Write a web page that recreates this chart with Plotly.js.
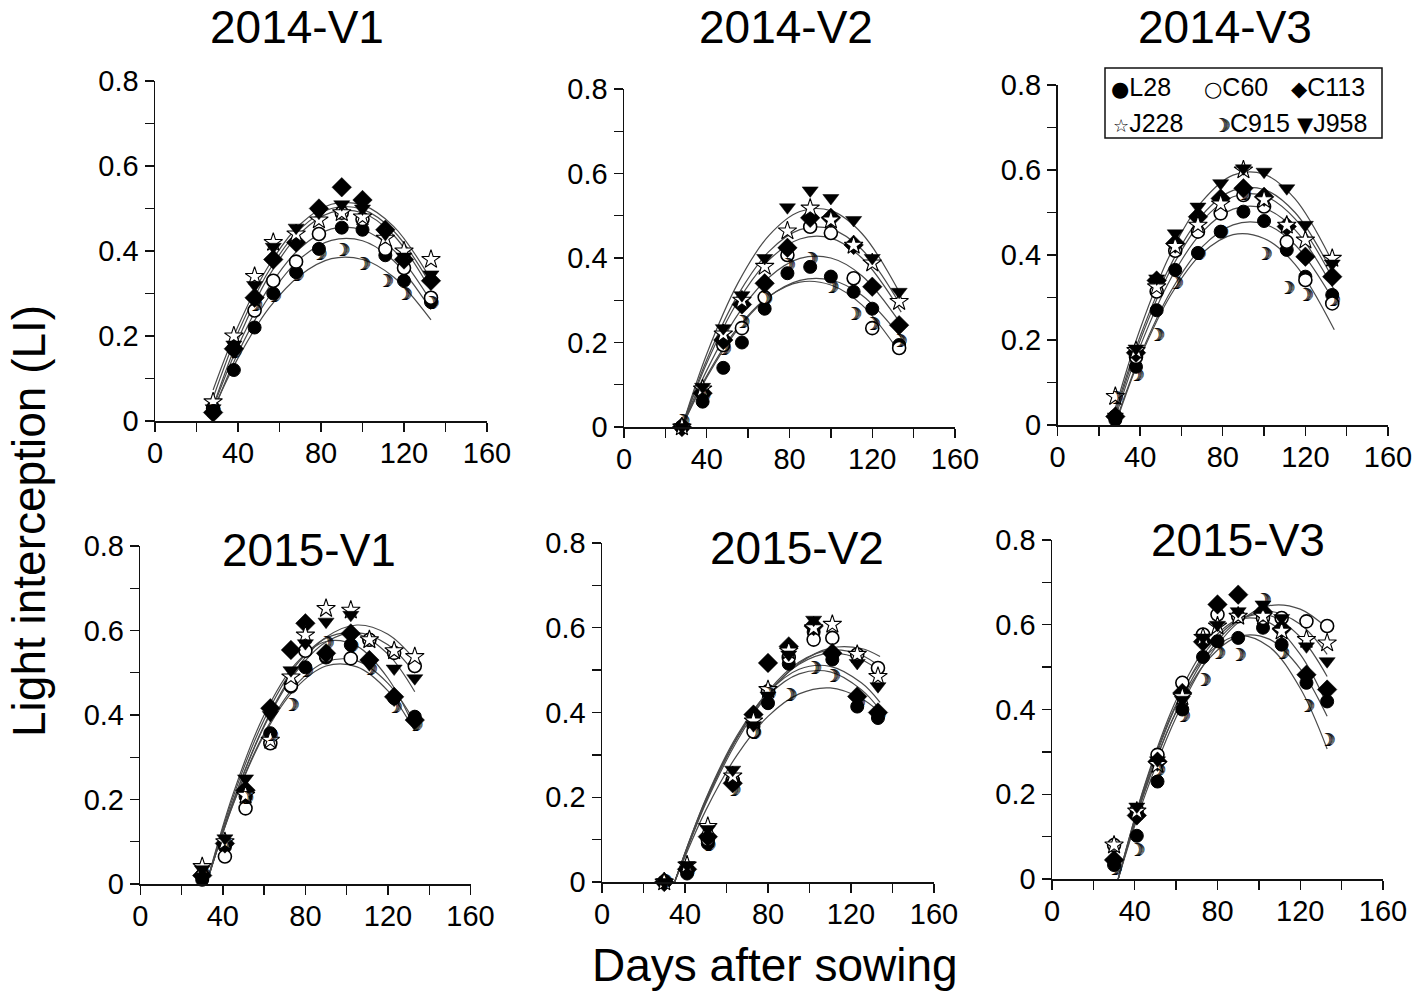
<!DOCTYPE html>
<html><head><meta charset="utf-8">
<script src="https://cdn.plot.ly/plotly-3.0.1.min.js"></script>
<style>html,body{margin:0;padding:0;background:#fff}#chart{width:1418px;height:991px}</style>
</head><body><div id="chart"></div>
<script>
// ---------------- data ----------------
const varieties = ['L28', 'C60', 'C113', 'J228', 'C915', 'J958'];
const panelTitles = ['2014-V1', '2014-V2', '2014-V3', '2015-V1', '2015-V2', '2015-V3'];
const xTickLabels = ['0', '40', '80', '120', '160'];
const yTickLabels = ['0', '0.2', '0.4', '0.6', '0.8'];

const obsDays2014 = [28, 38, 48, 57, 68, 79, 90, 100, 111, 120, 133];
const obsDays2015 = [30, 41, 51, 63, 73, 80, 90, 102, 111, 123, 133];

// observed light interception, rows in the order of `varieties`
const obs_2014V1 = [
  [0.02, 0.12, 0.22, 0.30, 0.35, 0.405, 0.455, 0.45, 0.39, 0.33, 0.28],
  [0.03, 0.17, 0.26, 0.33, 0.375, 0.44, 0.49, 0.475, 0.405, 0.36, 0.29],
  [0.02, 0.17, 0.29, 0.38, 0.42, 0.50, 0.55, 0.52, 0.45, 0.38, 0.33],
  [0.045, 0.20, 0.34, 0.42, 0.44, 0.473, 0.49, 0.48, 0.43, 0.40, 0.38],
  [0.02, 0.16, 0.27, 0.29, 0.34, 0.39, 0.40, 0.365, 0.325, 0.296, 0.275],
  [0.03, 0.18, 0.32, 0.41, 0.455, 0.49, 0.51, 0.50, 0.44, 0.387, 0.345]
];
const obs_2014V2 = [
  [0.0, 0.06, 0.14, 0.20, 0.28, 0.364, 0.379, 0.356, 0.32, 0.28, 0.194],
  [0.0, 0.08, 0.194, 0.234, 0.307, 0.407, 0.474, 0.459, 0.352, 0.234, 0.187],
  [0.0, 0.08, 0.206, 0.29, 0.34, 0.424, 0.495, 0.495, 0.431, 0.332, 0.241],
  [0.0, 0.09, 0.22, 0.30, 0.38, 0.464, 0.518, 0.49, 0.43, 0.388, 0.297],
  [0.01, 0.07, 0.18, 0.245, 0.30, 0.38, 0.395, 0.329, 0.265, 0.24, 0.20],
  [0.0, 0.095, 0.234, 0.312, 0.40, 0.52, 0.56, 0.542, 0.49, 0.40, 0.32]
];
const obs_2014V3 = [
  [0.012, 0.137, 0.27, 0.365, 0.405, 0.455, 0.502, 0.48, 0.412, 0.349, 0.306],
  [0.02, 0.16, 0.314, 0.41, 0.455, 0.498, 0.541, 0.514, 0.431, 0.341, 0.286],
  [0.02, 0.17, 0.34, 0.427, 0.49, 0.533, 0.557, 0.537, 0.467, 0.396, 0.349],
  [0.067, 0.175, 0.325, 0.42, 0.47, 0.52, 0.60, 0.53, 0.47, 0.435, 0.392],
  [0.06, 0.114, 0.208, 0.33, 0.40, 0.45, 0.54, 0.40, 0.32, 0.302, 0.29],
  [0.02, 0.18, 0.345, 0.451, 0.514, 0.569, 0.604, 0.596, 0.557, 0.471, 0.38]
];
const obs_2015V1 = [
  [0.01, 0.088, 0.207, 0.357, 0.467, 0.513, 0.536, 0.566, 0.578, 0.44, 0.396],
  [0.02, 0.065, 0.179, 0.333, 0.47, 0.552, 0.54, 0.534, 0.578, 0.547, 0.516],
  [0.02, 0.096, 0.222, 0.416, 0.554, 0.617, 0.546, 0.593, 0.53, 0.443, 0.388],
  [0.041, 0.10, 0.21, 0.34, 0.49, 0.589, 0.652, 0.648, 0.578, 0.552, 0.538],
  [0.02, 0.09, 0.20, 0.35, 0.42, 0.50, 0.566, 0.56, 0.506, 0.416, 0.372],
  [0.035, 0.108, 0.25, 0.40, 0.506, 0.57, 0.621, 0.637, 0.52, 0.51, 0.487]
];
const obs_2015V2 = [
  [0.0, 0.02, 0.091, 0.241, 0.367, 0.422, 0.515, 0.59, 0.525, 0.414, 0.387],
  [0.0, 0.03, 0.10, 0.24, 0.355, 0.45, 0.53, 0.572, 0.576, 0.537, 0.505],
  [0.0, 0.03, 0.107, 0.233, 0.395, 0.517, 0.556, 0.604, 0.54, 0.438, 0.40],
  [0.0, 0.04, 0.131, 0.25, 0.38, 0.454, 0.545, 0.60, 0.608, 0.537, 0.485],
  [0.0, 0.02, 0.083, 0.213, 0.348, 0.44, 0.438, 0.501, 0.482, 0.42, 0.39],
  [0.0, 0.04, 0.125, 0.265, 0.37, 0.44, 0.537, 0.619, 0.529, 0.517, 0.462]
];
const obs_2015V3 = [
  [0.033, 0.102, 0.23, 0.40, 0.524, 0.561, 0.569, 0.593, 0.553, 0.463, 0.419],
  [0.08, 0.163, 0.293, 0.463, 0.577, 0.624, 0.62, 0.616, 0.616, 0.608, 0.597],
  [0.045, 0.15, 0.277, 0.439, 0.56, 0.648, 0.671, 0.63, 0.59, 0.482, 0.447],
  [0.08, 0.16, 0.27, 0.43, 0.57, 0.597, 0.62, 0.62, 0.585, 0.565, 0.557],
  [0.02, 0.065, 0.254, 0.38, 0.466, 0.53, 0.524, 0.655, 0.53, 0.404, 0.325],
  [0.04, 0.171, 0.28, 0.423, 0.57, 0.60, 0.632, 0.648, 0.616, 0.549, 0.514]
];

// fitted curves at a few days
const fitDays_2014V1 = [28, 40, 55, 70, 85, 100, 115, 133];
const fitDays_2014V2 = [28, 40, 55, 70, 85, 100, 115, 134];
const fitDays_2014V3 = [28, 40, 55, 70, 85, 100, 115, 134];
const fitDays_2015V1 = [32, 45, 60, 75, 90, 105, 120, 133];
const fitDays_2015V2 = [35, 50, 65, 80, 95, 110, 125, 134];
const fitDays_2015V3 = [32, 45, 60, 75, 90, 105, 120, 133];

const fit_2014V1 = [
  [0.073, 0.223, 0.367, 0.463, 0.510, 0.508, 0.458, 0.333],
  [0.054, 0.208, 0.354, 0.452, 0.500, 0.498, 0.447, 0.320],
  [0.034, 0.191, 0.342, 0.442, 0.491, 0.490, 0.437, 0.307],
  [0.031, 0.176, 0.315, 0.407, 0.452, 0.450, 0.402, 0.282],
  [0.020, 0.160, 0.293, 0.382, 0.425, 0.424, 0.377, 0.262],
  [0.026, 0.148, 0.266, 0.343, 0.382, 0.380, 0.339, 0.238]
];
const fit_2014V2 = [
  [0.0, 0.173, 0.340, 0.453, 0.510, 0.512, 0.458, 0.311],
  [0.0, 0.159, 0.312, 0.415, 0.467, 0.469, 0.420, 0.286],
  [0.0, 0.151, 0.297, 0.395, 0.445, 0.447, 0.400, 0.272],
  [0.0, 0.134, 0.266, 0.354, 0.399, 0.400, 0.358, 0.243],
  [0.0, 0.117, 0.231, 0.308, 0.347, 0.348, 0.312, 0.212],
  [0.0, 0.121, 0.235, 0.309, 0.343, 0.336, 0.289, 0.171]
];
const fit_2014V3 = [
  [0.040, 0.226, 0.406, 0.526, 0.588, 0.590, 0.532, 0.375],
  [0.032, 0.209, 0.379, 0.494, 0.552, 0.554, 0.500, 0.350],
  [0.025, 0.199, 0.367, 0.480, 0.537, 0.539, 0.485, 0.338],
  [0.017, 0.185, 0.346, 0.454, 0.508, 0.510, 0.459, 0.318],
  [0.005, 0.163, 0.316, 0.419, 0.471, 0.473, 0.424, 0.290],
  [0.0, 0.158, 0.307, 0.404, 0.448, 0.439, 0.378, 0.224]
];
const fit_2015V1 = [
  [0.0, 0.196, 0.376, 0.505, 0.584, 0.613, 0.591, 0.531],
  [0.0, 0.195, 0.373, 0.499, 0.573, 0.595, 0.566, 0.499],
  [0.0, 0.206, 0.389, 0.515, 0.582, 0.592, 0.544, 0.455],
  [0.0, 0.214, 0.400, 0.520, 0.574, 0.563, 0.487, 0.368],
  [0.0, 0.190, 0.357, 0.469, 0.526, 0.528, 0.475, 0.384],
  [0.0, 0.188, 0.353, 0.462, 0.516, 0.514, 0.457, 0.362]
];
const fit_2015V2 = [
  [0.0, 0.185, 0.332, 0.443, 0.516, 0.552, 0.551, 0.532],
  [0.0, 0.190, 0.340, 0.450, 0.519, 0.547, 0.535, 0.508],
  [0.0, 0.190, 0.339, 0.447, 0.514, 0.540, 0.525, 0.496],
  [0.0, 0.196, 0.345, 0.447, 0.502, 0.509, 0.470, 0.424],
  [0.0, 0.194, 0.340, 0.440, 0.491, 0.496, 0.454, 0.406],
  [0.0, 0.169, 0.299, 0.391, 0.444, 0.458, 0.433, 0.400]
];
const fit_2015V3 = [
  [0.0, 0.198, 0.382, 0.518, 0.605, 0.645, 0.637, 0.592],
  [0.0, 0.208, 0.396, 0.530, 0.608, 0.632, 0.601, 0.530],
  [0.0, 0.216, 0.409, 0.541, 0.611, 0.622, 0.571, 0.478],
  [0.0, 0.225, 0.422, 0.551, 0.612, 0.605, 0.530, 0.411],
  [0.0, 0.211, 0.394, 0.515, 0.572, 0.566, 0.496, 0.384],
  [0.0, 0.222, 0.412, 0.529, 0.574, 0.548, 0.450, 0.307]
];

// ---------------- layout geometry (pixels) ----------------
const W = 1418, H = 991;
// [left, right, bottom, top] of each plot area
const panelBoxes = [
  [155, 487, 421, 81], [624, 955, 427, 89], [1057.5, 1388, 425, 85],
  [140.3, 470.5, 884, 546], [602, 934, 882, 543], [1052, 1383, 879, 540]
];
const titleCenters = [[297, 27], [786, 27], [1225, 27], [309, 550], [797, 548], [1238, 540]];

const panels = [
  {days: obsDays2014, obs: obs_2014V1, fd: fitDays_2014V1, fit: fit_2014V1},
  {days: obsDays2014, obs: obs_2014V2, fd: fitDays_2014V2, fit: fit_2014V2},
  {days: obsDays2014, obs: obs_2014V3, fd: fitDays_2014V3, fit: fit_2014V3},
  {days: obsDays2015, obs: obs_2015V1, fd: fitDays_2015V1, fit: fit_2015V1},
  {days: obsDays2015, obs: obs_2015V2, fd: fitDays_2015V2, fit: fit_2015V2},
  {days: obsDays2015, obs: obs_2015V3, fd: fitDays_2015V3, fit: fit_2015V3}
];

const FONT = 'Liberation Sans, Arial, Helvetica, sans-serif';
const INK = '#111';

const markerStyles = {
  L28:  {symbol: 'circle', size: 13, color: '#000', line: {color: '#000', width: 1}},
  C60:  {symbol: 'circle', size: 13, color: '#fff', line: {color: '#000', width: 1.6}},
  C113: {symbol: 'diamond', size: 15, color: '#000', line: {color: '#000', width: 0.5}},
  J228: {symbol: 'star', size: 14, color: '#fff', line: {color: '#000', width: 1.1}},
  J958: {symbol: 'triangle-down', size: 14, color: '#000', line: {color: '#000', width: 0.5}}
};
const crescentFont = {
  family: 'DejaVu Sans', size: 18, color: '#000', weight: 'bold',
  shadow: '1px 0px 0px #000, -1px 0px 0px #000'
};

const traces = [];
const layout = {
  width: W, height: H,
  margin: {l: 0, r: 0, t: 0, b: 0},
  paper_bgcolor: '#fff', plot_bgcolor: 'rgba(0,0,0,0)',
  showlegend: false,
  font: {family: FONT, color: '#000'},
  annotations: [], shapes: []
};

panels.forEach((p, i) => {
  const n = i === 0 ? '' : String(i + 1);
  const xa = 'x' + n, ya = 'y' + n;
  const b = panelBoxes[i];
  const axCommon = {
    showline: true, linecolor: INK, linewidth: 1.5,
    ticks: 'outside', ticklen: 9, tickwidth: 1.4, tickcolor: INK,
    showgrid: false, zeroline: false, fixedrange: true,
    tickfont: {family: FONT, size: 29, color: '#000'}
  };
  layout['xaxis' + n] = Object.assign({}, axCommon, {
    domain: [b[0] / W, b[1] / W], range: [0, 160], anchor: ya,
    tickmode: 'array', tickvals: [0, 40, 80, 120, 160], ticktext: xTickLabels,
    ticklabelstandoff: -3,
    minor: {tickmode: 'array', tickvals: [20, 60, 100, 140], ticks: 'outside', ticklen: 9, tickwidth: 1.4, tickcolor: INK, showgrid: false}
  });
  layout['yaxis' + n] = Object.assign({}, axCommon, {
    domain: [1 - b[2] / H, 1 - b[3] / H], range: [0, 0.8], anchor: xa,
    tickmode: 'array', tickvals: [0, 0.2, 0.4, 0.6, 0.8], ticktext: yTickLabels,
    minor: {tickmode: 'array', tickvals: [0.1, 0.3, 0.5, 0.7], ticks: 'outside', ticklen: 9, tickwidth: 1.4, tickcolor: INK, showgrid: false}
  });

  p.fit.forEach(f => {
    traces.push({
      type: 'scatter', mode: 'lines', x: p.fd, y: f, xaxis: xa, yaxis: ya,
      line: {color: '#4a4a4a', width: 1.2, shape: 'spline', smoothing: 1},
      hoverinfo: 'skip'
    });
  });

  varieties.forEach((v, j) => {
    if (v === 'C915') {
      traces.push({
        type: 'scatter', mode: 'text', x: p.days, y: p.obs[j], xaxis: xa, yaxis: ya,
        text: p.days.map(() => '\u263D'), textposition: 'middle center',
        textfont: crescentFont, cliponaxis: false, name: v
      });
    } else {
      traces.push({
        type: 'scatter', mode: 'markers', x: p.days, y: p.obs[j], xaxis: xa, yaxis: ya,
        marker: markerStyles[v], cliponaxis: false, name: v
      });
    }
  });

  layout.annotations.push({
    xref: 'paper', yref: 'paper', x: titleCenters[i][0] / W, y: 1 - titleCenters[i][1] / H,
    xanchor: 'center', yanchor: 'middle', showarrow: false,
    text: panelTitles[i], font: {family: FONT, size: 46, color: '#000'}
  });
});

// axis titles
layout.annotations.push({
  xref: 'paper', yref: 'paper', x: 29 / W, y: 1 - 521 / H, xanchor: 'center', yanchor: 'middle',
  showarrow: false, textangle: -90, text: 'Light interception (LI)',
  font: {family: FONT, size: 46, color: '#000'}
});
layout.annotations.push({
  xref: 'paper', yref: 'paper', x: 775 / W, y: 1 - 965 / H, xanchor: 'center', yanchor: 'middle',
  showarrow: false, text: 'Days after sowing',
  font: {family: FONT, size: 46, color: '#000'}
});

// legend box in panel 2014-V3
layout.shapes.push({
  type: 'rect', xref: 'paper', yref: 'paper',
  x0: 1105 / W, x1: 1382 / W, y0: 1 - 138 / H, y1: 1 - 68 / H,
  line: {color: INK, width: 1.5}, fillcolor: '#fff'
});
const legendGlyphs = ['\u25CF', '\u25CB', '\u25C6', '\u2606', '\u263D', '\u25BC'];
const legendPos = [[1109, 87], [1202, 87], [1289, 87], [1111, 123], [1211, 123], [1295, 123]];
varieties.forEach((v, j) => {
  const gStyle = j === 4
    ? 'font-family:DejaVu Sans;font-size:19px;font-weight:bold;text-shadow:1px 0 0 #000,-1px 0 0 #000'
    : 'font-family:DejaVu Sans;font-size:' + (j === 3 ? 18 : 21) + 'px';
  layout.annotations.push({
    xref: 'paper', yref: 'paper', x: legendPos[j][0] / W, y: 1 - legendPos[j][1] / H,
    xanchor: 'left', yanchor: 'middle', showarrow: false,
    text: '<span style="' + gStyle + '">' + legendGlyphs[j] + '</span>' + v,
    font: {family: FONT, size: 25, color: '#000'}
  });
});

Plotly.newPlot('chart', traces, layout, {staticPlot: true, displayModeBar: false});
</script>
</body></html>
